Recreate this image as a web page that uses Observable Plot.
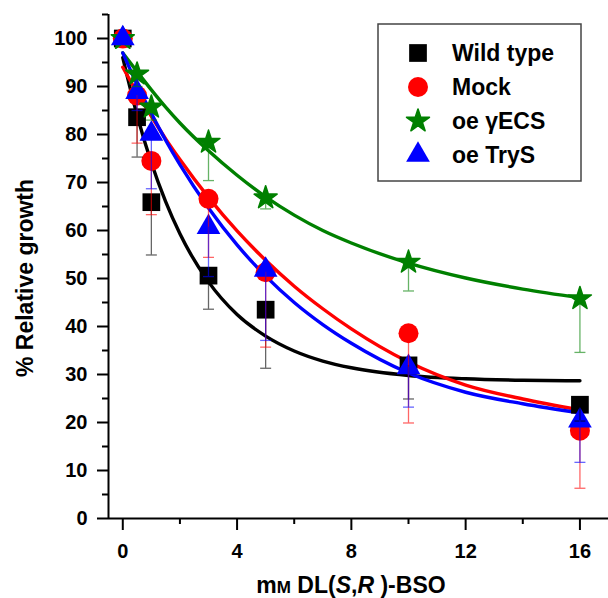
<!DOCTYPE html>
<html><head><meta charset="utf-8">
<script src="https://cdn.jsdelivr.net/npm/d3@7"></script>
<script src="https://cdn.jsdelivr.net/npm/@observablehq/plot@0.6"></script>
<style>body{margin:0;background:#fff;} #chart svg{display:block;}</style>
</head><body><div id="chart"></div><script>
// ---- data ----
const seriesNames = ["Wild type", "Mock", "oe γECS", "oe TryS"];
const seriesColors = ["#000000", "#ff0000", "#008000", "#0000ff"];
const doses = [0, 0.5, 1, 3, 5, 10, 16];
const wildType   = [100, 83.6, 65.9, 50.6, 43.5, 31.9, 23.7];
const wildTypeLo = [null, 75.3, 54.9, 43.6, 31.3, 24.9, 20.3];
const mock       = [100, 88.1, 74.5, 66.6, 51.3, 38.6, 18.3];
const mockLo     = [null, 78.2, 63.3, 54.4, 35.7, 19.9, 6.3];
const gecs       = [100, 92.6, 85.7, 78.4, 66.8, 53.4, 45.8];
const gecsLo     = [null, 90.0, 83.0, 70.4, 64.5, 47.4, 34.6];
const trys       = [100, 88.8, 80.1, 60.7, 51.8, 31.5, 20.4];
const trysLo     = [null, 85.0, 68.7, 50.4, 37.1, 23.2, 11.7];
// fitted curves
const fitDoses = [0, 0.5, 1, 1.5, 2, 3, 4, 5, 6, 7, 8, 10, 12, 14, 16];
const wildTypeFit = [96, 84, 74.1, 66, 59.3, 49.3, 42.5, 38, 34.9, 32.8, 31.4, 29.8, 29.1, 28.8, 28.7];
const mockFit     = [94, 88.7, 83.8, 79.1, 74.8, 66.9, 59.9, 53.8, 48.4, 43.7, 39.5, 32.6, 27.8, 24.9, 22.6];
const gecsFit     = [97, 93.1, 89.3, 85.7, 82.4, 76.6, 71.5, 67, 63.2, 60, 57.4, 53.2, 50.1, 47.8, 46];
const trysFit     = [97, 90.4, 84.4, 78.8, 73.7, 64.7, 57, 50.5, 45, 40.4, 36.5, 30.3, 26.3, 23.9, 22];
const xMajorTicks = [0, 4, 8, 12, 16];
const xMinorTicks = [2, 6, 10, 14];
const yMajorTicks = [0, 10, 20, 30, 40, 50, 60, 70, 80, 90, 100];
const yMinorTicks = [5, 15, 25, 35, 45, 55, 65, 75, 85, 95, 105];
const xDomain = [-0.5, 17];
const yDomain = [0, 105];

// ---- tables ----
const values = [wildType, mock, gecs, trys];
const lows = [wildTypeLo, mockLo, gecsLo, trysLo];
const fits = [wildTypeFit, mockFit, gecsFit, trysFit];
const points = [], fitRows = [];
seriesNames.forEach((s, i) => {
  doses.forEach((d, j) => points.push({series: s, dose: d, value: values[i][j], low: lows[i][j]}));
  fitDoses.forEach((d, j) => fitRows.push({series: s, dose: d, value: fits[i][j]}));
});
const bars = points.filter(d => d.low != null);

const capSymbol = {draw(ctx, size) { const w = 5.5; ctx.moveTo(-w, 0); ctx.lineTo(w, 0); }};
const symbolSpec = [
  {type: "square", r: 10, d3t: d3.symbolSquare, sw: 0},
  {type: "circle", r: 10, d3t: d3.symbolCircle, sw: 0},
  {type: "star", r: 7.2, d3t: d3.symbolStar, sw: 1.6},
  {type: "triangle", r: 8.8, d3t: d3.symbolTriangle, sw: 0}
];

const marks = [];
// curves
seriesNames.forEach((s, i) => {
  marks.push(Plot.line(fitRows.filter(d => d.series === s), {x: "dose", y: "value", stroke: seriesColors[i], strokeWidth: 3.4, curve: "monotone-x"}));
});
// markers
seriesNames.forEach((s, i) => {
  marks.push(Plot.dot(points.filter(d => d.series === s), {x: "dose", y: "value", symbol: symbolSpec[i].type, r: symbolSpec[i].r, fill: seriesColors[i], stroke: seriesColors[i], strokeWidth: symbolSpec[i].sw, strokeLinejoin: "round"}));
});
// error bars
seriesNames.forEach((s, i) => {
  const b = bars.filter(d => d.series === s);
  marks.push(Plot.ruleX(b, {x: "dose", y1: "value", y2: "low", stroke: seriesColors[i], strokeOpacity: 0.6, strokeWidth: 1.3}));
  marks.push(Plot.dot(b, {x: "dose", y: "low", symbol: capSymbol, r: 3, stroke: seriesColors[i], strokeOpacity: 0.6, strokeWidth: 1.3, fill: "none"}));
});
// axes
marks.push(
  Plot.axisX({ticks: xMajorTicks, tickSize: 12, tickPadding: 13, strokeWidth: 2, label: null}),
  Plot.axisX({ticks: xMinorTicks, tickSize: 6, strokeWidth: 2, text: null, label: null}),
  Plot.axisY({ticks: yMajorTicks, tickSize: 11, tickPadding: 10, strokeWidth: 2, label: null}),
  Plot.axisY({ticks: yMinorTicks, tickSize: 6, strokeWidth: 2, text: null, label: null}),
  Plot.ruleX([xDomain[0]], {y1: yDomain[0], y2: yDomain[1], strokeWidth: 2}),
  Plot.ruleY([yDomain[0]], {x1: xDomain[0], x2: xDomain[1], strokeWidth: 2})
);

const svg = Plot.plot({
  width: 608, height: 598,
  marginLeft: 108, marginRight: 0, marginTop: 14, marginBottom: 80,
  x: {domain: xDomain},
  y: {domain: yDomain},
  style: {fontFamily: "'Liberation Sans', Arial, sans-serif", fontSize: "20px", fontWeight: "bold", color: "#000", background: "#fff"},
  marks
});

const root = d3.select(svg);
// axis titles
root.append("text")
  .attr("transform", "translate(25,278) rotate(-90)")
  .attr("text-anchor", "middle").attr("dominant-baseline", "central")
  .attr("font-size", 23).attr("font-weight", "bold").attr("fill", "#000")
  .text("% Relative growth");
const xl = root.append("text")
  .attr("x", 351).attr("y", 593).attr("text-anchor", "middle")
  .attr("font-size", 23).attr("font-weight", "bold").attr("fill", "#000");
xl.append("tspan").text("m");
xl.append("tspan").attr("font-size", 17).text("M");
xl.append("tspan").text(" DL(");
xl.append("tspan").attr("font-style", "italic").text("S");
xl.append("tspan").text(",");
xl.append("tspan").attr("font-style", "italic").text("R");
xl.append("tspan").text(" )-BSO");

// legend
const lg = root.append("g");
lg.append("rect").attr("x", 378).attr("y", 24).attr("width", 203).attr("height", 157)
  .attr("fill", "#fff").attr("stroke", "#444").attr("stroke-width", 1.5);
seriesNames.forEach((s, i) => {
  const cy = 53 + i * 34;
  lg.append("path")
    .attr("transform", `translate(418,${cy})`)
    .attr("d", d3.symbol(symbolSpec[i].d3t, Math.PI * symbolSpec[i].r ** 2)())
    .attr("fill", seriesColors[i])
    .attr("stroke", seriesColors[i]).attr("stroke-width", symbolSpec[i].sw).attr("stroke-linejoin", "round");
  lg.append("text").attr("x", 452).attr("y", cy)
    .attr("text-anchor", "start").attr("dominant-baseline", "central")
    .attr("font-size", 23).attr("font-weight", "bold").attr("fill", "#000").text(s);
});

document.getElementById("chart").appendChild(svg);
</script></body></html>
